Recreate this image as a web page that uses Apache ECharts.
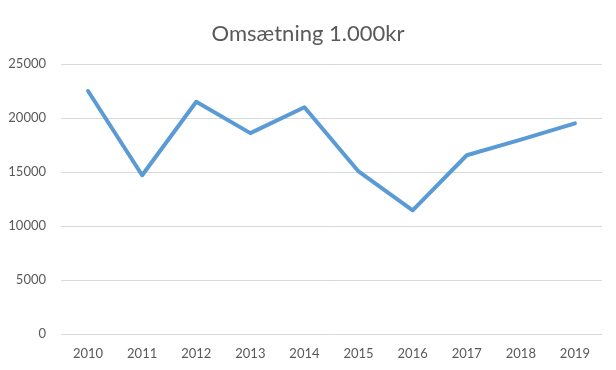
<!DOCTYPE html>
<html>
<head>
<meta charset="utf-8">
<script src="https://cdn.jsdelivr.net/npm/echarts@6/dist/echarts.min.js"></script>
<style>html,body{margin:0;padding:0;background:#fff;}#c{width:616px;height:370px;}</style>
</head>
<body>
<div id="c"></div>
<script>
const years = ['2010','2011','2012','2013','2014','2015','2016','2017','2018','2019'];
const revenue = [22500, 14700, 21500, 18600, 21000, 15050, 11450, 16550, 18000, 19500];
const yTicks = [0, 5000, 10000, 15000, 20000, 25000];

const chart = echarts.init(document.getElementById('c'), null, {renderer: 'canvas'});
chart.setOption({
  animation: false,
  backgroundColor: '#ffffff',
  title: {
    text: 'Omsætning 1.000kr',
    left: 'center',
    top: 18,
    textStyle: {fontFamily: 'Lato', fontSize: 22, fontWeight: 'normal', color: '#595959'}
  },
  grid: {left: 61, right: 14, top: 64, bottom: 36, containLabel: false},
  xAxis: {
    type: 'category',
    data: years,
    boundaryGap: true,
    axisLine: {show: false},
    axisTick: {show: false},
    axisLabel: {color: '#595959', fontFamily: 'Lato', fontSize: 13, margin: 13}
  },
  yAxis: {
    type: 'value',
    min: yTicks[0],
    max: yTicks[yTicks.length - 1],
    interval: 5000,
    axisLine: {show: false},
    axisTick: {show: false},
    axisLabel: {color: '#595959', fontFamily: 'Lato', fontSize: 13, margin: 15,
      formatter: function (v) { return String(v); }},
    splitLine: {lineStyle: {color: '#d9d9d9', width: 1}}
  },
  series: [{
    type: 'line',
    data: revenue,
    symbol: 'none',
    lineStyle: {color: '#5B9BD5', width: 4, cap: 'round', join: 'round'},
    itemStyle: {color: '#5B9BD5'}
  }]
});
</script>
</body>
</html>
